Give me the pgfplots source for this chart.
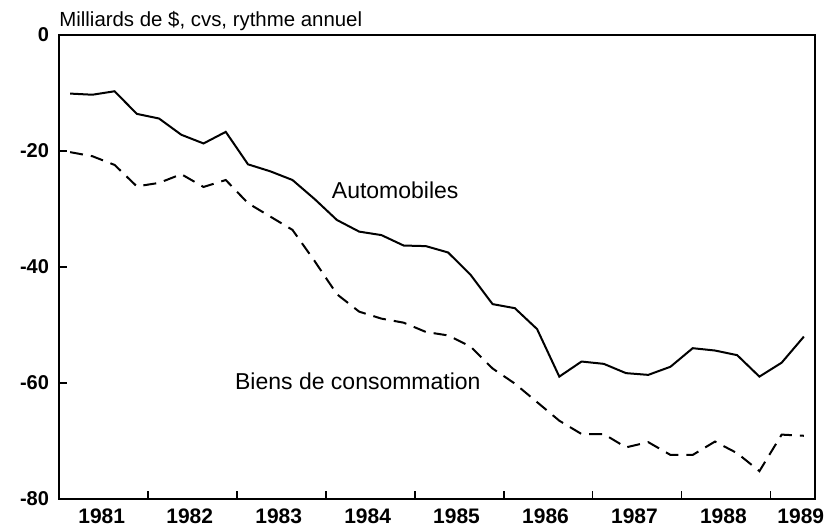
\documentclass[border=0pt]{standalone}
\usepackage{pgfplots}
\pgfplotsset{compat=1.18}
\usepackage{fontspec}
\setmainfont{Liberation Sans}

% quarterly series, x = year + mid-quarter
\pgfplotstableread{
x        auto   biens
1981.125 -10.1  -20.2
1981.375 -10.3  -20.9
1981.625  -9.7  -22.4
1981.875 -13.6  -26.1
1982.125 -14.4  -25.5
1982.375 -17.2  -24.0
1982.625 -18.7  -26.2
1982.875 -16.7  -25.0
1983.125 -22.3  -29.0
1983.375 -23.5  -31.3
1983.625 -25.0  -33.6
1983.875 -28.3  -39.0
1984.125 -31.9  -44.7
1984.375 -33.9  -47.7
1984.625 -34.5  -48.9
1984.875 -36.3  -49.6
1985.125 -36.4  -51.2
1985.375 -37.5  -51.8
1985.625 -41.3  -53.7
1985.875 -46.4  -57.5
1986.125 -47.1  -60.1
1986.375 -50.7  -63.3
1986.625 -58.9  -66.5
1986.875 -56.3  -68.8
1987.125 -56.7  -68.8
1987.375 -58.3  -71.1
1987.625 -58.6  -70.2
1987.875 -57.2  -72.4
1988.125 -54.0  -72.4
1988.375 -54.4  -70.1
1988.625 -55.2  -72.1
1988.875 -58.9  -75.2
1989.125 -56.5  -68.9
1989.375 -52.0  -69.1
}\data

\begin{document}
\begin{tikzpicture}
\begin{axis}[
  name=ax,
  scale only axis,
  width=378pt, height=232pt,
  xmin=1981, xmax=1989.5,
  ymin=-80, ymax=0,
  axis line style={line width=0.9pt},
  tick align=inside,
  xtick pos=lower, ytick pos=left,
  major tick length=4pt,
  % year boundaries carry the tick marks
  xtick={1982,1983,1984,1985,1986,1987,1988,1989},
  xticklabels={},
  % year names sit between them
  extra x ticks={1981.48,1982.47,1983.47,1984.47,1985.47,1986.47,1987.47,1988.47,1989.34},
  extra x tick labels={1981,1982,1983,1984,1985,1986,1987,1988,1989},
  extra x tick style={major tick length=0pt},
  ytick={0,-20,-40,-60,-80},
  yticklabels={0,-20,-40,-60,-80},
  every tick/.style={line width=0.8pt, black},
  x tick label style={font=\fontsize{10.5}{12}\selectfont\bfseries, yshift=-1.5pt},
  y tick label style={font=\fontsize{10}{12}\selectfont\bfseries, xshift=-1.5pt},
  clip=false,
]
\addplot[black, line width=1pt] table[x=x, y=auto] {\data};
\addplot[black, line width=1pt, dash pattern=on 6.5pt off 4pt] table[x=x, y=biens] {\data};

\node[font=\fontsize{11.5}{13}\selectfont] at (axis cs:1984.78,-26.7) {Automobiles};
\node[font=\fontsize{11.5}{13}\selectfont] at (axis cs:1984.36,-59.7) {Biens de consommation};
\node[font=\fontsize{10.2}{12}\selectfont, anchor=base west, inner sep=0pt] at ([yshift=4pt]rel axis cs:0,1) {Milliards de \$, cvs, rythme annuel};
\end{axis}
\path (ax.south west) ++(-29.5pt,-14pt) coordinate (bbl);
\path (ax.north east) ++(12pt,17.5pt) coordinate (bbr);
\path[use as bounding box] (bbl) rectangle (bbr);
\end{tikzpicture}
\end{document}
